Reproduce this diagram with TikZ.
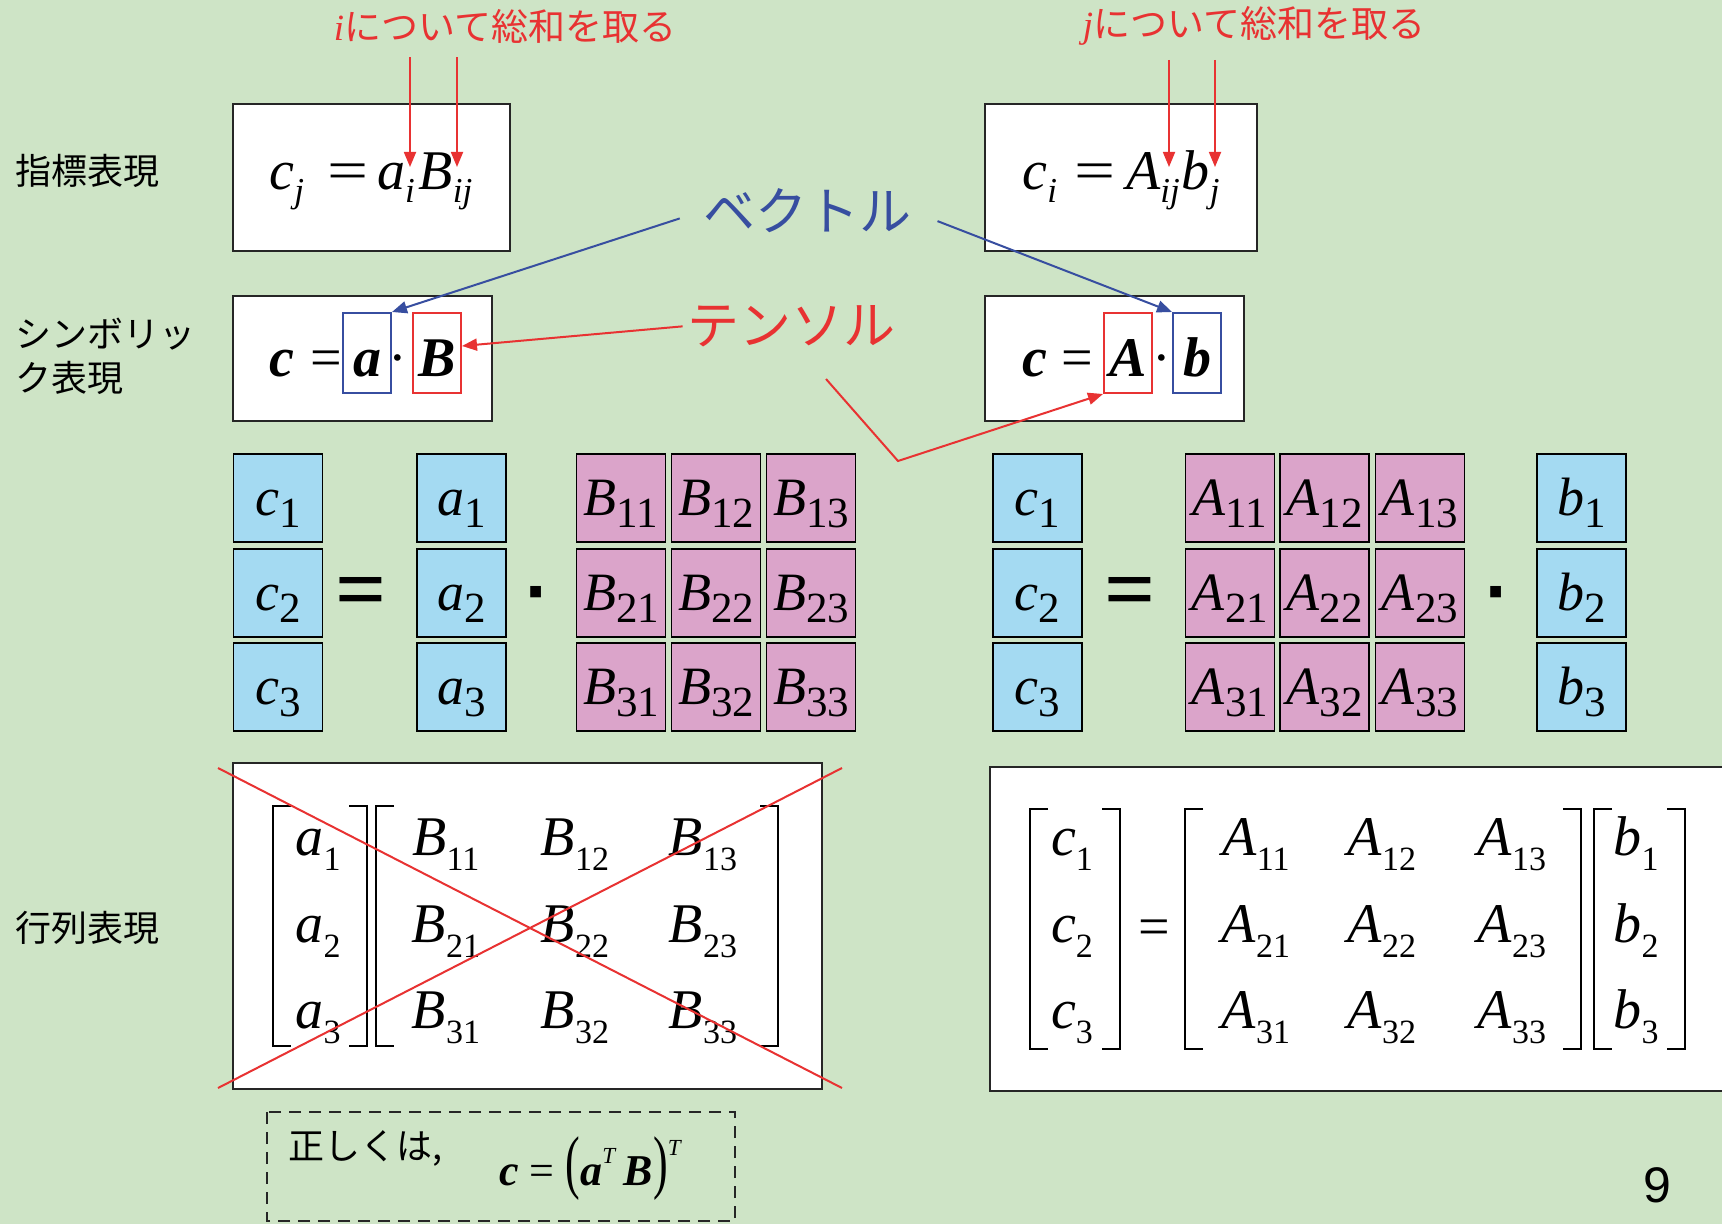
\documentclass[tikz,border=0pt]{standalone}
\usepackage{fontspec}
\setmainfont{Liberation Serif}
\newfontfamily\jp{Noto Sans CJK JP}
\newfontfamily\pagenum{Liberation Sans}
\usetikzlibrary{positioning,arrows.meta,calc}

\definecolor{slidebg}{RGB}{206,228,198}
\definecolor{sumred}{RGB}{232,50,50}
\definecolor{vecblue}{RGB}{55,78,160}
\definecolor{cellblue}{RGB}{164,218,242}
\definecolor{cellpink}{RGB}{219,164,202}

\newcommand\boldit[1]{\textbf{\textit{#1}}}
\newcommand\isub[2]{\textit{#1}\raisebox{-6.5pt}{\fontsize{17.5}{17.5}\selectfont\textit{#2}}}
\newcommand\gsub[2]{\textit{#1}\raisebox{-6pt}{\fontsize{21.5}{21.5}\selectfont #2}}
\newcommand\msub[2]{\textit{#1}\raisebox{-7.5pt}{\fontsize{17}{17}\selectfont #2}}
\newcommand\wideeq{\scalebox{1.3}[1]{=}}

\begin{document}
\begin{tikzpicture}[x=0.5pt,y=-0.5pt,
  panel/.style={draw=black!85,line width=1pt,fill=white},
  noteframe/.style={draw=black!85,line width=1pt,dash pattern=on 6pt off 4pt},
  rowlabel/.style={anchor=west,align=left,inner sep=0pt,font=\jp\fontsize{18}{22}\selectfont},
  sumlabel/.style={inner sep=0pt,text=sumred,font=\jp\fontsize{18.5}{18.5}\selectfont},
  calllabel/.style={inner sep=0pt,font=\jp\fontsize{26}{26}\selectfont},
  eqn/.style={anchor=base west,inner sep=0pt,font=\fontsize{28}{28}\selectfont},
  hilite/.style={draw=#1,line width=1pt,minimum width=24pt,minimum height=40pt,inner sep=0pt,
    text height=26pt,text depth=2pt,font=\fontsize{28}{28}\selectfont},
  cellbox/.style={draw,line width=.9pt,fill=#1,minimum width=44.5pt,minimum height=44pt,inner sep=0pt,
    text height=19pt,text depth=2pt,font=\fontsize{27}{27}\selectfont},
  bigop/.style={anchor=base,inner sep=0pt,font=\bfseries\fontsize{45}{45}\selectfont},
  dotop/.style={anchor=base,inner sep=0pt,font=\pagenum\bfseries\fontsize{38}{38}\selectfont},
  entry/.style={anchor=base,inner sep=0pt,font=\fontsize{28}{28}\selectfont},
  bracket/.style={line width=1.1pt},
  xline/.style={draw=sumred,line width=1pt},
  sumarrow/.style={draw=sumred,line width=.9pt,-{Triangle[length=7.5pt,width=6pt]}},
  vecarrow/.style={draw=vecblue,line width=1pt,-{Triangle[length=7.5pt,width=6pt]}},
  tenarrow/.style={draw=sumred,line width=1pt,-{Triangle[length=7.5pt,width=6pt]}}]

\fill[slidebg] (0,0) rectangle (1722,1224);
\useasboundingbox (0,0) rectangle (1722,1224);
\clip (0,0) rectangle (1722,1224);

\draw[panel] (233,104) rectangle (510,251);
\draw[panel] (985,104) rectangle (1257,251);
\draw[panel] (233,296) rectangle (492,421);
\draw[panel] (985,296) rectangle (1244,421);
\draw[panel] (233,763) rectangle (822,1089);
\draw[panel] (990,767) rectangle (1740,1091);
\draw[noteframe] (267,1112) rectangle (735,1221);

\node[rowlabel] (lblIdx) at (15,171) {指標表現};
\node[rowlabel] (lblSym) at (15,356) {シンボリッ\\ク表現};
\node[rowlabel] (lblMat) at (15,928) {行列表現};

\node[sumlabel] (sumi) at (505,26) {{\rmfamily\itshape i}について総和を取る};
\node[sumlabel] (sumj) at (1254,26) {{\rmfamily\itshape j}について総和を取る};

\node[eqn] (idxL) at (269,190) {\isub{c}{j}\hspace{12pt}\wideeq\hspace{4pt}\isub{a}{i}\hspace{2pt}\isub{B}{ij}};
\node[eqn] (idxR) at (1022,190) {\isub{c}{i}\hspace{9pt}\wideeq\hspace{5pt}\isub{A}{ij}\hspace{1pt}\isub{b}{j}};
\coordinate (ai) at (410,167);
\coordinate (bij) at (457,167);
\coordinate (aij) at (1169,167);
\coordinate (bj) at (1215,167);
\draw[sumarrow,shorten <=7pt] (sumi.south -| ai) -- (ai);
\draw[sumarrow,shorten <=7pt] (sumi.south -| bij) -- (bij);
\draw[sumarrow,shorten <=7pt] (sumj.south -| aij) -- (aij);
\draw[sumarrow,shorten <=7pt] (sumj.south -| bj) -- (bj);

\node[eqn] (symL) at (269,377) {\boldit{c}\hspace{8pt}=};
\node[hilite=vecblue] (va) at (367,353) {\boldit{a}};
\node[entry] (dotL) at (398,377) {·};
\node[hilite=sumred] (tB) at (437,353) {\boldit{B}};
\node[eqn] (symR) at (1022,377) {\boldit{c}\hspace{7pt}=};
\node[hilite=sumred] (tA) at (1128,353) {\boldit{A}};
\node[entry] (dotR) at (1162,377) {·};
\node[hilite=vecblue] (vb) at (1197,353) {\boldit{b}};

\node[calllabel,text=vecblue] (vec) at (807,211) {ベクトル};
\node[calllabel,text=sumred] (ten) at (791,326) {テンソル};
\draw[vecarrow,shorten <=12pt] (vec.west) -- (va.north east);
\draw[vecarrow,shorten <=14pt] (vec.east) -- (vb.north west);
\draw[tenarrow,shorten <=2pt] (ten.west) -- ([yshift=3.5pt]tB.east);
\coordinate (tkink) at (898,461);
\draw[tenarrow] ([xshift=17.5pt,yshift=-26.5pt]ten.center) -- (tkink) -- (tA.south west);

\foreach \row/\yy in {1/498,2/593,3/687} {
  \node[cellbox=cellblue] (c\row) at (278,\yy) {\gsub{c}{\row}};
  \node[cellbox=cellblue] (a\row) at (461.5,\yy) {\gsub{a}{\row}};
  \foreach \col/\xx in {1/621,2/716,3/811}
    \node[cellbox=cellpink] (B\row\col) at (\xx,\yy) {\gsub{B}{\row\col}};
  \node[cellbox=cellblue] (rc\row) at (1037.5,\yy) {\gsub{c}{\row}};
  \foreach \col/\xx in {1/1230,2/1324.5,3/1420}
    \node[cellbox=cellpink] (A\row\col) at (\xx,\yy) {\gsub{A}{\row\col}};
  \node[cellbox=cellblue] (b\row) at (1581.5,\yy) {\gsub{b}{\row}};
}
\node[bigop] (eqGL) at (361,619) {=};
\node[dotop] (dotGL) at (538,617) {·};
\node[bigop] (eqGR) at (1130,619) {=};
\node[dotop] (dotGR) at (1498,617) {·};

\foreach \row/\yy in {1/855,2/942,3/1028} {
  \node[entry] (ma\row) at (318,\yy) {\msub{a}{\row}};
  \foreach \col/\xx in {1/446,2/575,3/703}
    \node[entry] (mB\row\col) at (\xx,\yy) {\msub{B}{\row\col}};
  \node[entry] (mc\row) at (1072,\yy) {\msub{c}{\row}};
  \foreach \col/\xx in {1/1256,2/1382,3/1512}
    \node[entry] (mA\row\col) at (\xx,\yy) {\msub{A}{\row\col}};
  \node[entry] (mb\row) at (1636,\yy) {\msub{b}{\row}};
}
\node[entry] (meq) at (1154,945) {=};
\foreach \lft/\rgt in {273/367,376/778} {
  \draw[bracket] (\lft+18,806) -- (\lft,806) -- (\lft,1046) -- (\lft+18,1046);
  \draw[bracket] (\rgt-18,806) -- (\rgt,806) -- (\rgt,1046) -- (\rgt-18,1046);
}
\foreach \lft/\rgt in {1030/1120,1185/1581,1594/1685} {
  \draw[bracket] (\lft+18,809) -- (\lft,809) -- (\lft,1049) -- (\lft+18,1049);
  \draw[bracket] (\rgt-18,809) -- (\rgt,809) -- (\rgt,1049) -- (\rgt-18,1049);
}
\draw[xline] (218,768) -- (842,1088);
\draw[xline] (218,1088) -- (842,768);

\node[anchor=west,inner sep=0pt,font=\jp\fontsize{18}{18}\selectfont] (note) at (288,1148) {正しくは,};
\node[anchor=base west,inner sep=0pt,font=\fontsize{22}{22}\selectfont] (fix) at (499,1185)
  {\boldit{c} = \scalebox{1}[1.6]{(}\boldit{a}\raisebox{11pt}{\fontsize{11.5}{11.5}\selectfont\textit{T}}\,\boldit{B}\scalebox{1}[1.6]{)}\raisebox{15pt}{\fontsize{11.5}{11.5}\selectfont\textit{T}}};

\node[inner sep=0pt,font=\pagenum\fontsize{25}{25}\selectfont] (pg) at (1657,1185) {9};
\end{tikzpicture}
\end{document}
